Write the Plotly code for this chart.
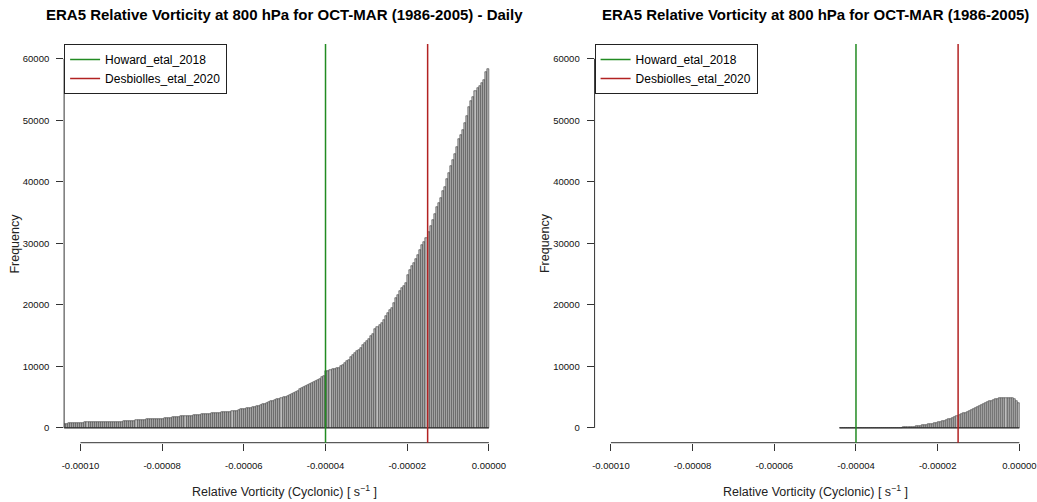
import numpy as np
import plotly.graph_objects as go

# ---------------- data ----------------
BIN_WIDTH = 5e-7
DAILY_START = -0.000104
DAILY_COUNTS = [
    600, 640, 770, 760, 780, 770, 770, 800, 790, 840,
    920, 930, 910, 930, 940, 930, 920, 930, 950, 940,
    1020, 1030, 1030, 1020, 1030, 1040, 1030, 1040, 1030, 1050,
    1120, 1140, 1130, 1150, 1140, 1240, 1290, 1300, 1300, 1310,
    1400, 1410, 1400, 1420, 1410, 1520, 1510, 1530, 1520, 1540,
    1650, 1680, 1690, 1700, 1720, 1840, 1850, 1860, 1870, 1880,
    1950, 1960, 1980, 2080, 2100, 2110, 2120, 2220, 2230, 2250,
    2300, 2320, 2380, 2400, 2420, 2460, 2500, 2530, 2560, 2600,
    2610, 2650, 2700, 2750, 2810, 2880, 3050, 3080, 3130, 3180,
    3200, 3280, 3380, 3450, 3500, 3620, 3750, 3820, 3900, 4100,
    4200, 4300, 4450, 4520, 4650, 4750, 4850, 4950, 5100, 5200,
    5350, 5500, 5650, 5800, 5950, 6300, 6450, 6600, 6850, 7000,
    7150, 7300, 7500, 7650, 7800, 8000, 8250, 8400, 9300, 9300,
    9400, 9500, 9550, 9700, 9800, 10000, 10200, 10500, 10800, 11100,
    11500, 11800, 12200, 12500, 12700, 13000, 13400, 13800, 14200, 14500,
    14900, 15300, 16000, 16400, 16700, 17050, 17500, 18150, 18700, 19100,
    19500, 20300, 21100, 21600, 22200, 22800, 23100, 23600, 24800, 25750,
    26300, 26800, 27400, 28100, 28900, 29700, 30200, 30900, 31800, 32800,
    33800, 34700, 35900, 36500, 37400, 38500, 39100, 40400, 41500, 42500,
    43500, 44500, 45700, 46950, 47600, 48500, 49550, 50700, 52100, 53200,
    53800, 54700, 55200, 55500, 56070, 56600, 57800, 58300,
]
SEASON_START = -0.000044
SEASON_COUNTS = [
    0, 0, 0, 0, 0, 0, 0, 0, 0, 0,
    0, 0, 0, 0, 0, 0, 0, 0, 0, 0,
    0, 0, 0, 0, 0, 0, 0, 60, 0, 50,
    60, 80, 100, 110, 150, 180, 230, 280, 320, 350,
    400, 440, 500, 560, 620, 680, 730, 820, 900, 980,
    1080, 1180, 1300, 1420, 1530, 1650, 1780, 1900, 2050, 2200,
    2350, 2500, 2650, 2800, 2950, 3100, 3300, 3450, 3600, 3750,
    3900, 4050, 4200, 4330, 4450, 4550, 4650, 4750, 4820, 4870,
    4900, 4920, 4900, 4880, 4800, 4700, 4450, 4000,
]
THRESH_NAMES = ["Howard_etal_2018", "Desbiolles_etal_2020"]
THRESH_VALUES = [-0.00004, -0.000015]
THRESH_COLORS = ["#228B22", "#B22222"]

X_TICKS = [-0.0001, -0.00008, -0.00006, -0.00004, -0.00002, 0.0]
X_TICK_LABELS = ["-0.00010", "-0.00008", "-0.00006", "-0.00004", "-0.00002", "0.00000"]
Y_TICKS = [0, 10000, 20000, 30000, 40000, 50000, 60000]
Y_TICK_LABELS = ["0", "10000", "20000", "30000", "40000", "50000", "60000"]

TITLES = [
    "ERA5 Relative Vorticity at 800 hPa for OCT-MAR (1986-2005) - Daily",
    "ERA5 Relative Vorticity at 800 hPa for OCT-MAR (1986-2005)",
]
X_TITLE = "Relative Vorticity (Cyclonic) [ s<sup>\u22121</sup> ]"
Y_TITLE = "Frequency"

XLIM = [-0.0001, 0.0]
YLIM = [0, 60000]

# ---------------- layout constants ----------------
W, H = 1037, 502
FONT = "Liberation Sans, Arial, sans-serif"
panels_px = [(62.3, 504.7), (594.3, 1036.7)]
plot_top_px, plot_bot_px = 44.0, 442.7


def ext(lim):
    d = (lim[1] - lim[0]) * 0.04
    return [lim[0] - d, lim[1] + d]


fig = go.Figure()

hists = [(DAILY_START, DAILY_COUNTS), (SEASON_START, SEASON_COUNTS)]
shapes = []
annotations = []
for k, (start, counts) in enumerate(hists):
    n = len(counts)
    centers = start + (np.arange(n) + 0.5) * BIN_WIDTH
    xa = "x" if k == 0 else "x2"
    ya = "y" if k == 0 else "y2"
    fig.add_trace(go.Bar(
        x=centers, y=counts, width=BIN_WIDTH,
        marker=dict(color="#BEBEBE", line=dict(color="#2a2a2a", width=0.55)),
        xaxis=xa, yaxis=ya, showlegend=False, hoverinfo="x+y",
    ))
    xr = xa
    yr = ya
    # baseline of histogram (zero-count bins drawn as a line, as in R)
    shapes.append(dict(type="line", xref=xr, yref=yr,
                       x0=start, x1=start + n * BIN_WIDTH, y0=0, y1=0,
                       line=dict(color="#1a1a1a", width=1)))
    # R-style axis lines (only between first and last tick)
    shapes.append(dict(type="line", xref=xr, yref=f"{ya} domain",
                       x0=X_TICKS[0], x1=X_TICKS[-1], y0=0, y1=0,
                       line=dict(color="#333", width=1)))
    shapes.append(dict(type="line", xref=f"{xa} domain", yref=yr,
                       x0=0, x1=0, y0=Y_TICKS[0], y1=Y_TICKS[-1],
                       line=dict(color="#333", width=1)))
    # threshold lines
    for name, val, col in zip(THRESH_NAMES, THRESH_VALUES, THRESH_COLORS):
        shapes.append(dict(type="line", xref=xr, yref=f"{ya} domain",
                           x0=val, x1=val, y0=0, y1=1,
                           line=dict(color=col, width=1.5),
                           showlegend=True, name=name,
                           legend="legend" if k == 0 else "legend2"))
    x0p, x1p = panels_px[k]
    cx = (x0p + x1p) / 2 / W
    annotations.append(dict(text=f"<b>{TITLES[k]}</b>", xref="paper", yref="paper",
                            x=cx, y=1 - 15 / H, xanchor="center", yanchor="middle",
                            showarrow=False, font=dict(size=15, family=FONT, color="#000")))
    annotations.append(dict(text=X_TITLE, xref="paper", yref="paper",
                            x=cx, y=1 - 491 / H, xanchor="center", yanchor="middle",
                            showarrow=False, font=dict(size=12.5, family=FONT, color="#222")))
    annotations.append(dict(text=Y_TITLE, xref="paper", yref="paper",
                            x=(x0p - 49) / W, y=1 - (plot_top_px + plot_bot_px) / 2 / H,
                            xanchor="center", yanchor="middle", textangle=-90,
                            showarrow=False, font=dict(size=12.5, family=FONT, color="#222")))

axis_common = dict(showgrid=False, zeroline=False, showline=False, ticks="outside",
                   ticklen=7, tickwidth=1, tickcolor="#333",
                   tickfont=dict(size=9.5, family=FONT, color="#111"))
ydom = [(H - plot_bot_px) / H, (H - plot_top_px) / H]
layout = dict(
    width=W, height=H, margin=dict(l=0, r=0, t=0, b=0),
    paper_bgcolor="white", plot_bgcolor="white",
    bargap=0, shapes=shapes, annotations=annotations,
    font=dict(family=FONT),
)
for k in range(2):
    sfx = "" if k == 0 else "2"
    x0p, x1p = panels_px[k]
    layout[f"xaxis{sfx}"] = dict(axis_common, domain=[x0p / W, x1p / W], range=ext(XLIM),
                                 tickvals=X_TICKS, ticktext=X_TICK_LABELS,
                                 ticklabelstandoff=7, ticklabeloverflow="allow",
                                 anchor=f"y{sfx}")
    layout[f"yaxis{sfx}"] = dict(axis_common, domain=ydom, range=ext(YLIM),
                                 tickvals=Y_TICKS, ticktext=Y_TICK_LABELS,
                                 ticklabelstandoff=5, anchor=f"x{sfx}")
    layout["legend" if k == 0 else "legend2"] = dict(
        x=x0p / W, y=(H - plot_top_px) / H, xanchor="left", yanchor="top",
        bordercolor="#222", borderwidth=1, bgcolor="white",
        font=dict(size=12, family=FONT, color="#000"), tracegroupgap=0,
    )

fig.update_layout(**layout)
fig.write_html("out.html")
